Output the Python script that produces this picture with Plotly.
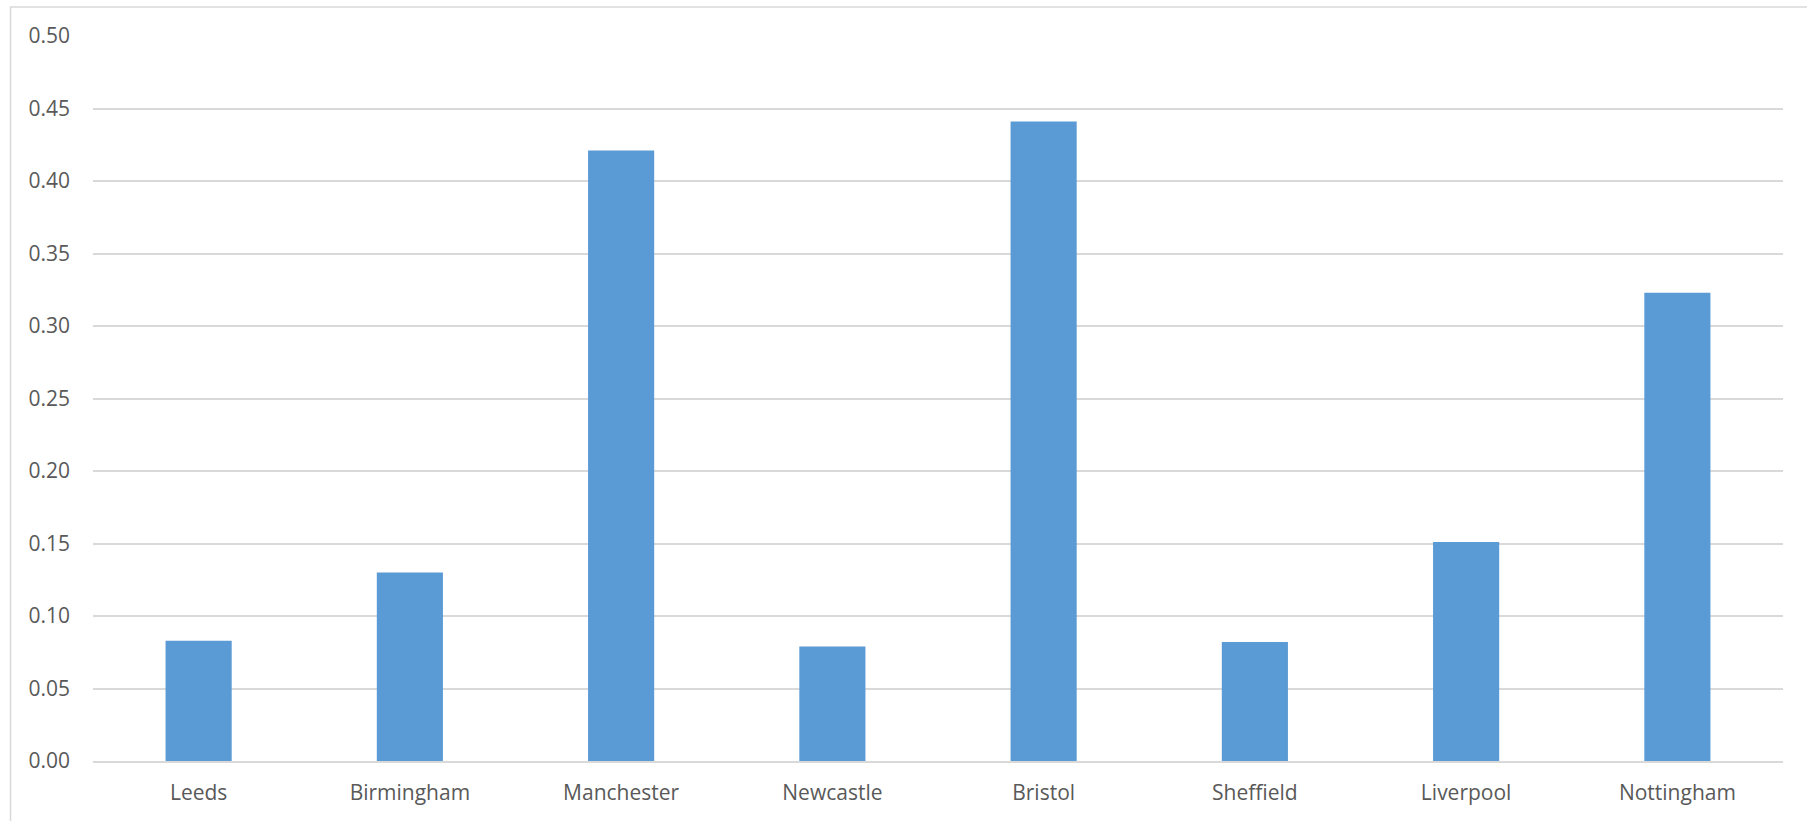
import plotly.graph_objects as go

cities = ["Leeds", "Birmingham", "Manchester", "Newcastle", "Bristol",
          "Sheffield", "Liverpool", "Nottingham"]
values = [0.083, 0.130, 0.421, 0.079, 0.441, 0.082, 0.151, 0.323]
y_ticks = [0.0, 0.05, 0.10, 0.15, 0.20, 0.25, 0.30, 0.35, 0.40, 0.45, 0.50]
y_tick_text = ["0.00", "0.05", "0.10", "0.15", "0.20", "0.25", "0.30",
               "0.35", "0.40", "0.45", "0.50"]

FONT = "Open Sans, Lato, sans-serif"
TEXT_COLOR = "#595959"
GRID = "#d9d9d9"

fig = go.Figure(
    go.Bar(
        x=cities,
        y=values,
        marker=dict(color="#5b9bd5", line=dict(width=0)),
        hoverinfo="x+y",
    )
)

fig.update_layout(
    width=1807,
    height=821,
    margin=dict(l=93, r=24, t=36, b=60),
    paper_bgcolor="white",
    plot_bgcolor="white",
    bargap=0.687,
    showlegend=False,
    font=dict(family=FONT, size=21, color=TEXT_COLOR),
    xaxis=dict(
        showgrid=False,
        showline=True,
        linecolor=GRID,
        linewidth=2,
        ticks="",
        tickfont=dict(family=FONT, size=21, color=TEXT_COLOR),
        ticklabelstandoff=12,
    ),
    yaxis=dict(
        range=[0, 0.5],
        tickvals=y_ticks,
        ticktext=y_tick_text,
        showgrid=True,
        gridcolor=GRID,
        gridwidth=1.5,
        zeroline=False,
        showline=False,
        ticks="",
        tickfont=dict(family=FONT, size=21, color=TEXT_COLOR),
        ticklabelstandoff=22,
    ),
    shapes=[
        # chart frame around the whole figure area
        dict(
            type="rect",
            xref="paper", yref="paper",
            x0=-0.0488, x1=1.03,
            y0=-0.2, y1=1.04,
            line=dict(color="#d9d9d9", width=1.5),
            fillcolor="rgba(0,0,0,0)",
            layer="below",
        )
    ],
)

fig.write_html("out.html")
